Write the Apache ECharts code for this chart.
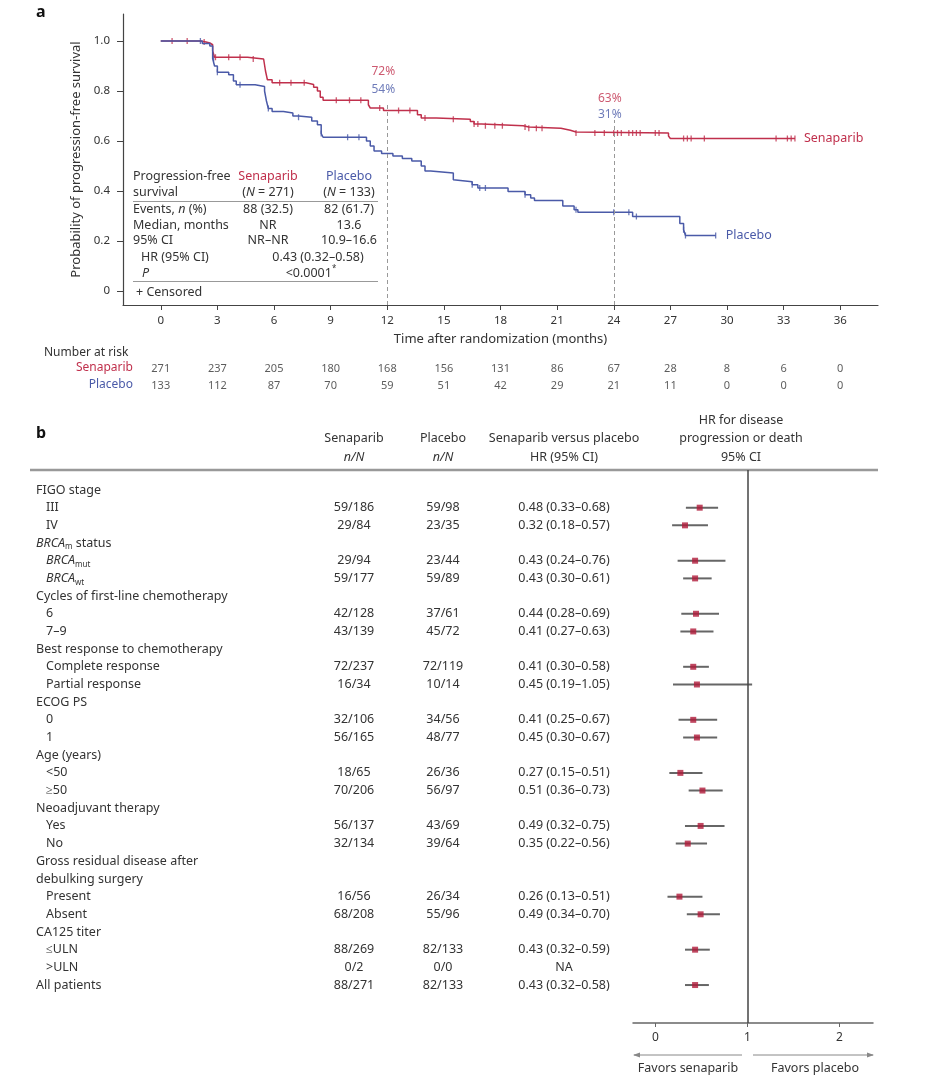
<!DOCTYPE html>
<html><head><meta charset="utf-8">
<script src="https://cdn.jsdelivr.net/npm/echarts@6/dist/echarts.min.js"></script>
<style>html,body{margin:0;padding:0;background:#fff}#c{width:932px;height:1087px}</style>
</head><body><div id="c"></div>
<script>
// ---------------- DATA ----------------
// Kaplan–Meier steps (time in months, survival after the step)
const senTimes = [0, 2.1, 2.4, 2.6, 2.75, 2.85, 4.6, 5.45, 5.55, 5.65, 5.9, 7.7, 8.1, 8.3, 8.45, 8.6, 11.0, 11.1, 11.8, 13.6, 13.8, 14.6, 16.4, 16.6, 17.0, 19.2, 19.5, 21.2, 21.7, 22.0, 26.9, 27.0, 33.6];
const senSurv  = [1.0, 0.996, 0.992, 0.985, 0.96, 0.935, 0.928, 0.92, 0.88, 0.845, 0.833, 0.826, 0.815, 0.80, 0.775, 0.763, 0.745, 0.732, 0.722, 0.705, 0.692, 0.687, 0.678, 0.668, 0.661, 0.656, 0.651, 0.643, 0.636, 0.632, 0.62, 0.61, 0.61];
const plaTimes = [0, 2.2, 2.6, 2.75, 2.85, 3.0, 3.6, 3.85, 4.0, 5.0, 5.5, 5.6, 5.7, 5.9, 6.5, 7.0, 7.3, 8.0, 8.3, 8.5, 8.6, 10.9, 11.1, 11.3, 11.7, 12.3, 12.8, 13.3, 13.8, 14.0, 14.3, 15.5, 15.6, 16.5, 16.8, 18.4, 19.3, 19.6, 19.8, 21.3, 21.9, 22.1, 25.0, 27.5, 27.7, 27.8, 29.4];
const plaSurv  = [1.0, 0.99, 0.98, 0.93, 0.90, 0.875, 0.865, 0.84, 0.825, 0.818, 0.80, 0.76, 0.73, 0.718, 0.712, 0.70, 0.695, 0.68, 0.665, 0.63, 0.615, 0.60, 0.58, 0.56, 0.55, 0.54, 0.53, 0.52, 0.50, 0.48, 0.472, 0.445, 0.437, 0.425, 0.412, 0.398, 0.385, 0.372, 0.362, 0.34, 0.325, 0.315, 0.298, 0.27, 0.245, 0.222, 0.222];
const senCensor = [0.6, 1.4, 2.3, 2.9, 3.6, 4.2, 4.9, 6.3, 6.9, 7.6, 9.3, 10.0, 10.6, 11.6, 12.6, 13.2, 14.0, 15.5, 16.6, 16.8, 17.2, 17.7, 18.1, 19.3, 19.5, 19.9, 20.2, 22.0, 23.0, 23.5, 24.0, 24.2, 24.4, 24.8, 25.0, 25.2, 25.4, 26.2, 26.4, 27.7, 27.9, 28.1, 28.8, 32.6, 33.2, 33.4, 33.6];
const plaCensor = [2.1, 2.8, 3.0, 4.2, 5.7, 7.3, 8.5, 9.9, 10.5, 16.5, 16.9, 17.2, 19.3, 22.0, 24.0, 24.8, 25.2, 27.7, 27.8, 29.4];
const landmarkTimes = [12, 24];
const senLandmark = ['72%', '63%'];
const plaLandmark = ['54%', '31%'];
// Number at risk
const riskTimes = [0, 3, 6, 9, 12, 15, 18, 21, 24, 27, 30, 33, 36];
const senAtRisk = [271, 237, 205, 180, 168, 156, 131, 86, 67, 28, 8, 6, 0];
const plaAtRisk = [133, 112, 87, 70, 59, 51, 42, 29, 21, 11, 0, 0, 0];
const yTicks = [0, 0.2, 0.4, 0.6, 0.8, 1.0];
// Forest plot
const rowLabels = ['FIGO stage','III','IV','*BRCA*_{m} status','*BRCA*_{mut}','*BRCA*_{wt}','Cycles of first-line chemotherapy','6','7–9','Best response to chemotherapy','Complete response','Partial response','ECOG PS','0','1','Age (years)','<50','≥50','Neoadjuvant therapy','Yes','No','Gross residual disease after','debulking surgery','Present','Absent','CA125 titer','≤ULN','>ULN','All patients'];
const rowIndent = [0,1,1,0,1,1,0,1,1,0,1,1,0,1,1,0,1,1,0,1,1,0,0,1,1,0,1,1,0];
const senNN = ['','59/186','29/84','','29/94','59/177','','42/128','43/139','','72/237','16/34','','32/106','56/165','','18/65','70/206','','56/137','32/134','','','16/56','68/208','','88/269','0/2','88/271'];
const plaNN = ['','59/98','23/35','','23/44','59/89','','37/61','45/72','','72/119','10/14','','34/56','48/77','','26/36','56/97','','43/69','39/64','','','26/34','55/96','','82/133','0/0','82/133'];
const hrVal = [null,0.48,0.32,null,0.43,0.43,null,0.44,0.41,null,0.41,0.45,null,0.41,0.45,null,0.27,0.51,null,0.49,0.35,null,null,0.26,0.49,null,0.43,null,0.43];
const hrLo  = [null,0.33,0.18,null,0.24,0.30,null,0.28,0.27,null,0.30,0.19,null,0.25,0.30,null,0.15,0.36,null,0.32,0.22,null,null,0.13,0.34,null,0.32,null,0.32];
const hrHi  = [null,0.68,0.57,null,0.76,0.61,null,0.69,0.63,null,0.58,1.05,null,0.67,0.67,null,0.51,0.73,null,0.75,0.56,null,null,0.51,0.70,null,0.59,null,0.58];
const forestTicks = [0, 1, 2];

// ---------------- LAYOUT / STYLE ----------------
const RED = '#c0304c', BLUE = '#4a5aa8', TXT = '#333', FONT = 'Noto Sans', FS = 12.5;
const kmYMin = -0.056, kmYMax = 1.108;
const senLabelY = [0.877, 0.768], plaLabelY = [0.807, 0.704], landmarkTop = [0.75, 0.684];
const rowY0 = 490, rowStep = 17.68;
const fTop = 470, fHeight = 553;
const fMin = -(rowY0 - fTop) / rowStep, fMax = fMin + fHeight / rowStep;
const colSen = 354, colPla = 443, colHR = 564;

function survAt(times, surv, t) { let v = surv[0]; for (let i = 0; i < times.length; i++) { if (times[i] <= t) v = surv[i]; } return v; }

const G = [];
const mctx = document.createElement('canvas').getContext('2d');
function parse(s) {
  const re = /\*([^*]+)\*|_\{([^}]*)\}|\^\{([^}]*)\}|([^*_^]+)/g; const out = []; let m;
  while ((m = re.exec(s))) {
    if (m[1] !== undefined) out.push({ t: m[1], k: 'i' });
    else if (m[2] !== undefined) out.push({ t: m[2], k: 'sub' });
    else if (m[3] !== undefined) out.push({ t: m[3], k: 'sup' });
    else out.push({ t: m[4], k: '' });
  }
  return out;
}
function txt(x, y, s, o) {
  o = o || {};
  const size = o.size || FS, color = o.color || TXT, weight = o.weight || 'normal';
  const toks = parse(s).map(tk => {
    const small = tk.k === 'sub' || tk.k === 'sup';
    const sz = small ? Math.round(size * 0.65) : size;
    const it = tk.k === 'i' || !!o.italic;
    mctx.font = (it ? 'italic ' : '') + weight + ' ' + sz + 'px "' + FONT + '"';
    return { t: tk.t, k: tk.k, sz: sz, it: it, w: mctx.measureText(tk.t).width };
  });
  const total = toks.reduce((a, b) => a + b.w, 0);
  let cx = o.align === 'center' ? x - total / 2 : (o.align === 'right' ? x - total : x);
  toks.forEach(tk => {
    const dy = tk.k === 'sub' ? 4 : (tk.k === 'sup' ? -4.5 : 0);
    G.push({ type: 'text', x: cx, y: y + dy, silent: true, z: 10,
      style: { text: tk.t, fill: color, fontSize: tk.sz, fontFamily: FONT, fontStyle: tk.it ? 'italic' : 'normal', fontWeight: weight,
        align: 'left', verticalAlign: 'middle', textAlign: 'left', textVerticalAlign: 'middle' } });
    cx += tk.w;
  });
}
function hline(x1, x2, y, color, w) { G.push({ type: 'line', silent: true, shape: { x1: x1, y1: y, x2: x2, y2: y }, style: { stroke: color, lineWidth: w } }); }

// ---- panel a texts ----
txt(36, 12, 'a', { size: 16, weight: 'bold', color: '#111' });
txt(133, 176, 'Progression-free');
txt(268, 176, 'Senaparib', { align: 'center', color: RED });
txt(349, 176, 'Placebo', { align: 'center', color: BLUE });
txt(133, 192, 'survival');
txt(268, 192, '(*N* = 271)', { align: 'center' });
txt(349, 192, '(*N* = 133)', { align: 'center' });
hline(133, 378, 201.5, '#999', 1);
txt(133, 209, 'Events, *n* (%)');
txt(268, 209, '88 (32.5)', { align: 'center' });
txt(349, 209, '82 (61.7)', { align: 'center' });
txt(133, 225, 'Median, months');
txt(268, 225, 'NR', { align: 'center' });
txt(349, 225, '13.6', { align: 'center' });
txt(133, 240, '95% CI');
txt(268, 240, 'NR–NR', { align: 'center' });
txt(349, 240, '10.9–16.6', { align: 'center' });
txt(141, 257, 'HR (95% CI)');
txt(318, 257, '0.43 (0.32–0.58)', { align: 'center' });
txt(142, 273, '*P*');
txt(311, 273, '<0.0001^{*}', { align: 'center' });
hline(133, 378, 281.5, '#999', 1);
txt(136, 292, '+ Censored');
txt(44, 353, 'Number at risk', { size: 12 });
txt(133, 368, 'Senaparib', { align: 'right', color: RED, size: 12 });
txt(133, 385, 'Placebo', { align: 'right', color: BLUE, size: 12 });

// ---- panel b texts ----
txt(36, 433, 'b', { size: 16, weight: 'bold', color: '#111' });
txt(colSen, 438, 'Senaparib', { align: 'center' });
txt(colSen, 457, '*n/N*', { align: 'center' });
txt(colPla, 438, 'Placebo', { align: 'center' });
txt(colPla, 457, '*n/N*', { align: 'center' });
txt(colHR, 438, 'Senaparib versus placebo', { align: 'center' });
txt(colHR, 457, 'HR (95% CI)', { align: 'center' });
txt(741, 420, 'HR for disease', { align: 'center' });
txt(741, 438, 'progression or death', { align: 'center' });
txt(741, 457, '95% CI', { align: 'center' });
hline(30, 878, 470, '#999', 2.5);
rowLabels.forEach((lab, r) => {
  const y = rowY0 + rowStep * r;
  txt(rowIndent[r] ? 46 : 36, y, lab);
  if (senNN[r]) txt(colSen, y, senNN[r], { align: 'center' });
  if (plaNN[r]) txt(colPla, y, plaNN[r], { align: 'center' });
  if (hrVal[r] != null) txt(colHR, y, hrVal[r].toFixed(2) + ' (' + hrLo[r].toFixed(2) + '–' + hrHi[r].toFixed(2) + ')', { align: 'center' });
  else if (senNN[r]) txt(colHR, y, 'NA', { align: 'center' });
});
// favours arrows
hline(634, 742, 1055, '#888', 1);
hline(753, 873, 1055, '#888', 1);
G.push({ type: 'polygon', silent: true, shape: { points: [[633, 1055], [640, 1052.5], [640, 1057.5]] }, style: { fill: '#888' } });
G.push({ type: 'polygon', silent: true, shape: { points: [[874, 1055], [867, 1052.5], [867, 1057.5]] }, style: { fill: '#888' } });
txt(688, 1068, 'Favors senaparib', { align: 'center' });
txt(815, 1068, 'Favors placebo', { align: 'center' });

// ---------------- CHART ----------------
const chart = echarts.init(document.getElementById('c'), null, { renderer: 'canvas' });
const forestRows = hrVal.map((v, r) => r).filter(r => hrVal[r] != null);
const option = {
  animation: false,
  textStyle: { fontFamily: FONT },
  grid: [
    { left: 123, top: 14, width: 755, height: 291 },
    { left: 123, top: 360, width: 755, height: 34 },
    { left: 633, top: fTop, width: 240, height: fHeight }
  ],
  xAxis: [
    { gridIndex: 0, type: 'value', min: -2, max: 38,
      name: 'Time after randomization (months)', nameLocation: 'middle', nameGap: 28,
      nameTextStyle: { fontSize: 13, color: TXT },
      axisLine: { onZero: false, lineStyle: { color: '#444', width: 1.2 } },
      axisTick: { length: 5, customValues: riskTimes, lineStyle: { color: '#444' } },
      axisLabel: { customValues: riskTimes, fontSize: 11.5, color: TXT, margin: 10 },
      splitLine: { show: false } },
    { gridIndex: 1, type: 'value', min: -2, max: 38, show: false },
    { gridIndex: 2, type: 'value', min: -0.245, max: 2.364,
      axisLine: { onZero: false, lineStyle: { color: '#666', width: 1.5 } },
      axisTick: { length: 4, customValues: forestTicks, lineStyle: { color: '#666' } },
      axisLabel: { customValues: forestTicks, fontSize: 12, color: TXT, margin: 9 },
      splitLine: { show: false } }
  ],
  yAxis: [
    { gridIndex: 0, type: 'value', min: kmYMin, max: kmYMax,
      name: 'Probability of progression-free survival', nameLocation: 'middle', nameGap: 39,
      nameTextStyle: { fontSize: 13, color: TXT },
      axisLine: { show: true, onZero: false, lineStyle: { color: '#444', width: 1.2 } },
      axisTick: { show: true, length: 6, customValues: yTicks, lineStyle: { color: '#444' } },
      axisLabel: { customValues: yTicks, fontSize: 11.5, color: TXT, margin: 13, formatter: v => (v === 0 ? '0' : v.toFixed(1)) },
      splitLine: { show: false } },
    { gridIndex: 1, type: 'category', data: ['Senaparib', 'Placebo'], inverse: true, show: false },
    { gridIndex: 2, type: 'value', min: fMin, max: fMax, inverse: true, show: false }
  ],
  series: [
    { name: 'Senaparib', type: 'line', xAxisIndex: 0, yAxisIndex: 0, step: 'end', symbol: 'none',
      data: senTimes.map((t, i) => [t, senSurv[i]]),
      lineStyle: { color: RED, width: 1.5 }, itemStyle: { color: RED },
      endLabel: { show: true, formatter: '{a}', color: RED, fontSize: 12.5, distance: 9 },
      markLine: { symbol: 'none', silent: true, label: { show: false },
        lineStyle: { type: [4, 3], color: '#999', width: 1 },
        data: landmarkTimes.map((t, i) => [{ coord: [t, kmYMin] }, { coord: [t, landmarkTop[i]] }]) } },
    { name: 'Placebo', type: 'line', xAxisIndex: 0, yAxisIndex: 0, step: 'end', symbol: 'none',
      data: plaTimes.map((t, i) => [t, plaSurv[i]]),
      lineStyle: { color: BLUE, width: 1.5 }, itemStyle: { color: BLUE },
      endLabel: { show: true, formatter: '{a}', color: BLUE, fontSize: 12.5, distance: 10 } },
    { name: 'senCensor', type: 'scatter', xAxisIndex: 0, yAxisIndex: 0, symbol: 'rect', symbolSize: [1.3, 6],
      data: senCensor.map(t => [t, survAt(senTimes, senSurv, t)]), itemStyle: { color: RED } },
    { name: 'plaCensor', type: 'scatter', xAxisIndex: 0, yAxisIndex: 0, symbol: 'rect', symbolSize: [1.3, 6],
      data: plaCensor.map(t => [t, survAt(plaTimes, plaSurv, t)]), itemStyle: { color: BLUE } },
    { name: 'senPct', type: 'scatter', xAxisIndex: 0, yAxisIndex: 0, symbolSize: 0, silent: true,
      data: landmarkTimes.map((t, i) => [t, senLabelY[i], senLandmark[i]]),
      label: { show: true, position: 'inside', offset: [-4, 0], formatter: p => p.value[2], color: RED, fontSize: 12 } },
    { name: 'plaPct', type: 'scatter', xAxisIndex: 0, yAxisIndex: 0, symbolSize: 0, silent: true,
      data: landmarkTimes.map((t, i) => [t, plaLabelY[i], plaLandmark[i]]),
      label: { show: true, position: 'inside', offset: [-4, 0], formatter: p => p.value[2], color: BLUE, fontSize: 12 } },
    { name: 'senRisk', type: 'scatter', xAxisIndex: 1, yAxisIndex: 1, symbolSize: 1, silent: true,
      itemStyle: { color: 'rgba(0,0,0,0)' },
      data: riskTimes.map((t, i) => [t, 'Senaparib', senAtRisk[i]]),
      label: { show: true, position: 'inside', formatter: p => p.value[2], color: TXT, fontSize: 11 } },
    { name: 'plaRisk', type: 'scatter', xAxisIndex: 1, yAxisIndex: 1, symbolSize: 1, silent: true,
      itemStyle: { color: 'rgba(0,0,0,0)' },
      data: riskTimes.map((t, i) => [t, 'Placebo', plaAtRisk[i]]),
      label: { show: true, position: 'inside', formatter: p => p.value[2], color: TXT, fontSize: 11 } },
    { name: 'CI', type: 'custom', xAxisIndex: 2, yAxisIndex: 2, silent: true,
      encode: { x: [0, 1], y: 2 },
      data: forestRows.map(r => [hrLo[r], hrHi[r], r]),
      renderItem: (params, api) => {
        const a = api.coord([api.value(0), api.value(2)]);
        const b = api.coord([api.value(1), api.value(2)]);
        return { type: 'line', shape: { x1: a[0], y1: a[1], x2: b[0], y2: b[1] }, style: { stroke: '#666', lineWidth: 2 } };
      },
      markLine: { symbol: 'none', silent: true, label: { show: false }, lineStyle: { type: 'solid', color: '#444', width: 1.5 }, data: [{ xAxis: 1 }] } },
    { name: 'HR', type: 'scatter', xAxisIndex: 2, yAxisIndex: 2, symbol: 'rect', symbolSize: 6, z: 5,
      data: forestRows.map(r => [hrVal[r], r]), itemStyle: { color: '#b01a3a' } }
  ],
  graphic: G
};
chart.setOption(option);
</script></body></html>
